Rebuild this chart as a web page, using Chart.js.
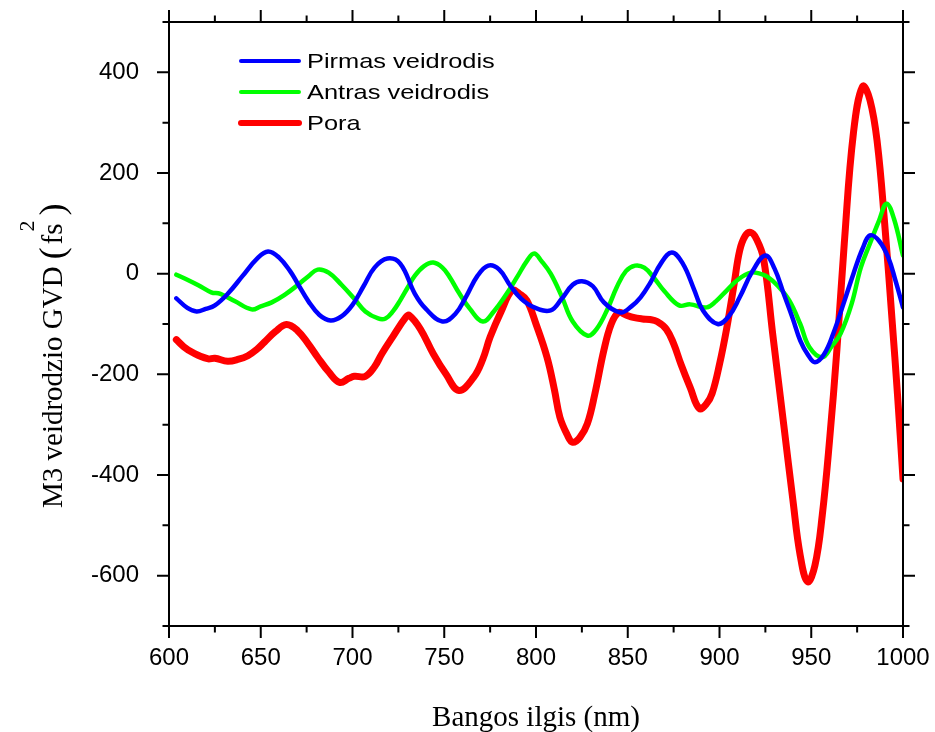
<!DOCTYPE html>
<html>
<head>
<meta charset="utf-8">
<script src="https://cdn.jsdelivr.net/npm/chart.js@4.4.1/dist/chart.umd.min.js"></script>
<style>
  html, body { margin: 0; padding: 0; background: #fff; }
  #wrap { width: 935px; height: 732px; }
</style>
</head>
<body>
<div id="wrap"><canvas id="gvd-chart" width="935" height="732"></canvas></div>
<script>
// Pirmas veidrodis (blue)
const pirmasX = [604, 610, 615, 620, 625, 632, 640, 648, 654, 660, 666, 670, 676, 682, 688, 694, 700, 706, 712, 719, 726, 734, 740, 749, 756, 762, 768, 774, 780, 786, 792, 799, 808, 814, 820, 825, 831, 837, 846, 852, 857, 862, 868, 874, 880, 886, 891, 899, 905, 911, 918, 925, 930, 935, 940, 944, 948, 952, 957, 962, 968, 973, 978, 982, 987, 992, 996, 1000];
const pirmasY = [-49, -68, -75, -70, -63, -40, -5, 30, 44, 32, 5, -19, -55, -82, -93, -85, -62, -25, 12, 30, 20, -40, -70, -95, -80, -45, -5, 16, 8, -24, -50, -67, -73, -50, -22, -15, -25, -57, -77, -65, -47, -20, 20, 42, 20, -30, -73, -100, -85, -47, 5, 36, 10, -40, -90, -133, -160, -176, -160, -119, -55, 0, 50, 76, 65, 32, -15, -67];

// Antras veidrodis (green)
const antrasX = [604, 610, 616, 623, 628, 636, 645, 650, 656, 663, 670, 676, 681, 687, 694, 701, 707, 714, 718, 722, 726, 730, 734, 739, 744, 749, 753, 758, 764, 771, 777, 784, 790, 795, 799, 803, 808, 814, 820, 828, 833, 839, 844, 849, 854, 859, 864, 870, 878, 884, 893, 898, 904, 910, 917, 922, 926, 932, 938, 944, 949, 956, 961, 966, 972, 977, 982, 987, 991, 995, 1000];
const antrasY = [-2, -12, -23, -37, -40, -55, -71, -65, -57, -42, -23, -5, 8, 2, -22, -50, -75, -89, -89, -75, -53, -28, -4, 15, 22, 12, -7, -38, -70, -95, -75, -40, -5, 25, 40, 25, 0, -45, -95, -123, -110, -70, -27, 5, 16, 12, -7, -35, -63, -61, -67, -55, -33, -12, 2, 0, -6, -25, -53, -100, -146, -166, -145, -119, -60, 12, 60, 106, 139, 110, 36];

// Pora (red)
const poraX = [604, 608, 613, 621, 625, 632, 638, 643, 648, 652, 658, 664, 670, 676, 681, 687, 693, 698, 701, 707, 712, 716, 722, 729, 731, 737, 744, 751, 758, 766, 771, 775, 781, 787, 791, 795, 800, 806, 810, 813, 817, 820, 824, 828, 832, 837, 841, 845, 849, 853, 858, 862, 866, 871, 875, 879, 884, 889, 893, 896, 900, 904, 908, 911, 914, 917, 920, 924, 929, 935, 940, 944, 948, 952, 956, 960, 964, 968, 973, 978, 982, 986, 990, 994, 997, 1000];
const poraY = [-131, -145, -157, -169, -168, -174, -170, -163, -150, -136, -115, -101, -113, -140, -166, -195, -216, -208, -204, -204, -185, -159, -125, -87, -83, -110, -159, -200, -232, -206, -170, -126, -75, -33, -40, -53, -100, -166, -230, -285, -320, -335, -325, -298, -240, -152, -100, -77, -82, -87, -90, -91, -95, -110, -139, -180, -226, -268, -258, -238, -180, -107, -20, 46, 75, 82, 70, 30, -120, -300, -450, -560, -612, -580, -480, -330, -150, 60, 280, 372, 345, 260, 100, -90, -240, -408];

const seriesLabels = ["Pirmas veidrodis", "Antras veidrodis", "Pora"];
const xTicks = [600, 650, 700, 750, 800, 850, 900, 950, 1000];
const yTicks = [-600, -400, -200, 0, 200, 400];

function toPoints(xs, ys) {
    return xs.map((x, i) => ({ x: x, y: ys[i] }));
}

const xMinor = xTicks.slice(0, -1).map((v, i) => (v + xTicks[i + 1]) / 2);
const yMinor = [];
for (let v = -700; v <= 500; v += 100) {
    if (!yTicks.includes(v)) yMinor.push(v);
}

// frame box + outward ticks on all four sides
const frameTicks = {
    id: "frameTicks",
    afterDatasetsDraw(chart) {
        const { ctx, chartArea: a, scales } = chart;
        const major = 12, minor = 6.5;
        ctx.save();
        ctx.strokeStyle = "#000";
        ctx.lineWidth = 2;
        ctx.strokeRect(a.left, a.top, a.right - a.left, a.bottom - a.top);
        ctx.beginPath();
        const xt = (v, len) => {
            const px = scales.x.getPixelForValue(v);
            ctx.moveTo(px, a.bottom); ctx.lineTo(px, a.bottom + len);
            ctx.moveTo(px, a.top); ctx.lineTo(px, a.top - len);
        };
        const yt = (v, len) => {
            const py = scales.y.getPixelForValue(v);
            ctx.moveTo(a.left, py); ctx.lineTo(a.left - len, py);
            ctx.moveTo(a.right, py); ctx.lineTo(a.right + len, py);
        };
        xTicks.forEach((v) => xt(v, major));
        xMinor.forEach((v) => xt(v, minor));
        yTicks.forEach((v) => yt(v, major));
        yMinor.forEach((v) => yt(v, minor));
        ctx.stroke();
        ctx.restore();
    },
};

// legend inside the plot, upper left
const innerLegend = {
    id: "innerLegend",
    afterDraw(chart) {
        const ctx = chart.ctx;
        ctx.save();
        chart.data.datasets.forEach((ds, i) => {
            const y = 61 + i * 31;
            ctx.strokeStyle = ds.borderColor;
            ctx.lineWidth = i == 2 ? 6 : 4;
            ctx.lineCap = "round";
            ctx.beginPath();
            ctx.moveTo(241, y);
            ctx.lineTo(299, y);
            ctx.stroke();
            ctx.save();
            ctx.translate(307, y + 7);
            ctx.scale(1.21, 1);
            ctx.fillStyle = "#000";
            ctx.font = "21px 'Liberation Sans', Arial, sans-serif";
            ctx.textBaseline = "alphabetic";
            ctx.fillText(ds.label, 0, 0);
            ctx.restore();
        });
        ctx.restore();
    },
};

// rotated y title with big parentheses and superscript
const yTitle = {
    id: "yTitle",
    afterDraw(chart) {
        const ctx = chart.ctx;
        ctx.save();
        ctx.translate(62, 508);
        ctx.rotate(-Math.PI / 2);
        ctx.fillStyle = "#000";
        ctx.textBaseline = "alphabetic";
        const base = "29px 'Liberation Serif', 'Times New Roman', serif";
        const big = "36px 'Liberation Serif', 'Times New Roman', serif";
        let cx = 0;
        ctx.font = base;
        const main = "M3 veidrodzio GVD";
        ctx.fillText(main, cx, 0);
        cx += ctx.measureText(main).width + 7;
        ctx.font = big;
        ctx.fillText("(", cx, 2);
        cx += ctx.measureText("(").width + 3;
        ctx.font = base;
        ctx.fillText("fs", cx, 0);
        cx += ctx.measureText("fs").width;
        ctx.font = "22px 'Liberation Serif', 'Times New Roman', serif";
        ctx.fillText("2", cx - 8, -28);
        cx += 8;
        ctx.font = big;
        ctx.fillText(")", cx, 2);
        ctx.restore();
    },
};

const ctx = document.getElementById("gvd-chart").getContext("2d");
const gvdChart = new Chart(ctx, {
    type: "line",
    data: {
        datasets: [
            {
                label: seriesLabels[0],
                data: toPoints(pirmasX, pirmasY),
                borderColor: "#0000ff",
                borderWidth: 4.5,
            },
            {
                label: seriesLabels[1],
                data: toPoints(antrasX, antrasY),
                borderColor: "#00ff00",
                borderWidth: 4.5,
            },
            {
                label: seriesLabels[2],
                data: toPoints(poraX, poraY),
                borderColor: "#ff0000",
                borderWidth: 7,
            },
        ],
    },
    options: {
        responsive: false,
        animation: false,
        devicePixelRatio: 1,
        layout: { padding: { left: 0, right: 32, top: 22, bottom: 0 } },
        elements: {
            point: { radius: 0 },
            line: { tension: 0.4, borderJoinStyle: "round", borderCapStyle: "round" },
        },
        plugins: {
            legend: { display: false },
            tooltip: { enabled: false },
        },
        scales: {
            x: {
                type: "linear",
                min: 600,
                max: 1000,
                afterBuildTicks: (scale) => {
                    scale.ticks = xTicks.map((v) => ({ value: v }));
                },
                afterFit: (scale) => {
                    scale.height = 106;
                    scale.paddingLeft = 0;
                    scale.paddingRight = 0;
                },
                grid: { display: false },
                border: { display: false },
                ticks: {
                    color: "#000",
                    padding: 10,
                    maxRotation: 0,
                    callback: (v) => String(v),
                    font: { family: "'Liberation Sans', Arial, sans-serif", size: 24 },
                },
                title: {
                    display: true,
                    text: "Bangos ilgis (nm)",
                    color: "#000",
                    padding: { top: 4, bottom: -4 },
                    font: { family: "'Liberation Serif', 'Times New Roman', serif", size: 29 },
                },
            },
            y: {
                type: "linear",
                min: -700,
                max: 500,
                afterBuildTicks: (scale) => {
                    scale.ticks = yTicks.map((v) => ({ value: v }));
                },
                afterFit: (scale) => {
                    scale.width = 169;
                    scale.paddingTop = 0;
                    scale.paddingBottom = 0;
                },
                grid: { display: false },
                border: { display: false },
                ticks: {
                    color: "#000",
                    padding: 22,
                    callback: (v) => String(v),
                    font: { family: "'Liberation Sans', Arial, sans-serif", size: 24 },
                },
            },
        },
    },
    plugins: [frameTicks, innerLegend, yTitle],
});
</script>
</body>
</html>
